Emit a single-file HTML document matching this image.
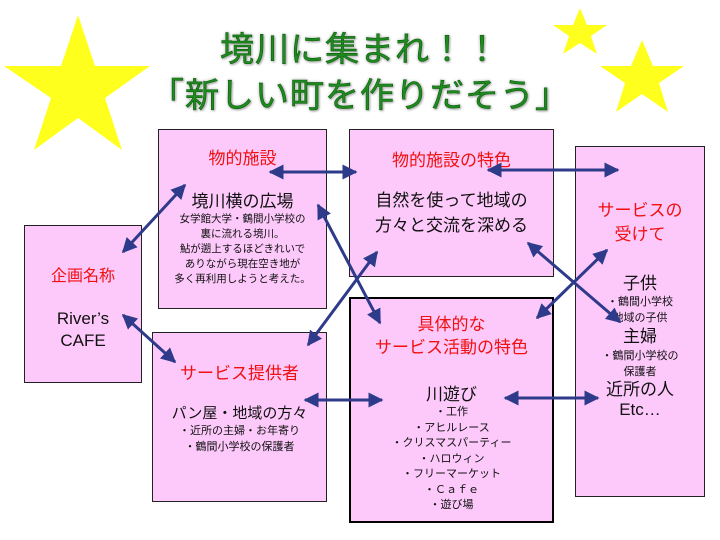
<!DOCTYPE html>
<html><head><meta charset="utf-8"><style>
body{margin:0;width:720px;height:540px;background:#fff;position:relative;overflow:hidden;font-family:"Liberation Sans","Noto Sans CJK JP",sans-serif}
.b{position:absolute;background:#fdc9fb;border:1px solid #222;box-sizing:border-box;text-align:center;color:#111}
.r{color:#f01010}
.t{position:absolute;left:0;width:720px;text-align:center;color:#1f8a1f;font-size:34px;-webkit-text-stroke:0.6px #0c5c0c;text-shadow:0 0 2px #fff,0 0 3px #999,1px 1px 2px #888;letter-spacing:1px}
svg{position:absolute;left:0;top:0}
</style></head><body>
<svg width="720" height="540">
<polygon fill="#ffff1e" points="78,15 95,66 150,66 105,98 122,150 78,118 34,150 51,98 4,66 61,66"/>
<polygon fill="#ffff1e" points="580,8 587,25 607,25 591,36 597,54 580,43 563,54 569,36 553,25 573,25"/>
<polygon fill="#ffff1e" points="642,40 653,66 684,66 659,83 668,112 642,94 616,112 625,83 600,66 631,66"/>
</svg>
<div class="t" style="top:22px">境川に集まれ！！</div>
<div class="t" style="top:68px">「新しい町を作りだそう」</div>

<div class="b" style="left:24px;top:225px;width:118px;height:158px"><div class="r" style="margin-top:36px;font-size:16px">企画名称</div><div style="margin-top:22px;font-size:17px;line-height:22px">River’s<br>CAFE</div></div>

<div class="b" style="left:158px;top:129px;width:169px;height:180px"><div class="r" style="margin-top:14px;font-size:17px">物的施設</div><div style="margin-top:18px;font-size:17px">境川横の広場</div><div style="font-size:10.5px;line-height:15px">女学館大学・鶴間小学校の<br>裏に流れる境川。<br>鮎が遡上するほどきれいで<br>ありながら現在空き地が<br>多く再利用しようと考えた。</div></div>

<div class="b" style="left:349px;top:129px;width:205px;height:148px"><div class="r" style="margin-top:16px;font-size:17px">物的施設の特色</div><div style="margin-top:17px;font-size:17px;line-height:25px">自然を使って地域の<br>方々と交流を深める</div></div>

<div class="b" style="left:575px;top:146px;width:130px;height:351px"><div class="r" style="margin-top:52px;font-size:17px;line-height:24px">サービスの<br>受けて</div><div style="margin-top:22px;font-size:17px">子供</div><div style="font-size:11px;line-height:16px">・鶴間小学校<br>地域の子供</div><div style="font-size:17px;line-height:22px">主婦</div><div style="font-size:11px;line-height:16px">・鶴間小学校の<br>保護者</div><div style="font-size:17px;line-height:20px">近所の人<br>Etc…</div></div>

<div class="b" style="left:152px;top:332px;width:175px;height:170px"><div class="r" style="margin-top:26px;font-size:17px">サービス提供者</div><div style="margin-top:18px;font-size:15px">パン屋・地域の方々</div><div style="font-size:11px;line-height:16px">・近所の主婦・お年寄り<br>・鶴間小学校の保護者</div></div>

<div class="b" style="left:349px;top:297px;width:205px;height:226px;border:2px solid #000"><div class="r" style="margin-top:14px;font-size:17px;line-height:23px">具体的な<br>サービス活動の特色</div><div style="margin-top:21px;font-size:17px">川遊び</div><div style="font-size:11px;line-height:15.5px">・工作<br>・アヒルレース<br>・クリスマスパーティー<br>・ハロウィン<br>・フリーマーケット<br>・Ｃａｆｅ<br>・遊び場</div></div>

<svg width="720" height="540">
<defs><marker id="a" viewBox="0 0 10 10" refX="9" refY="5" markerWidth="5" markerHeight="5" orient="auto-start-reverse"><path d="M0,0L10,5L0,10z" fill="#2e3a8a"/></marker></defs>
<g stroke="#2e3a8a" stroke-width="3" marker-start="url(#a)" marker-end="url(#a)">
<line x1="123" y1="252" x2="185" y2="185"/>
<line x1="123" y1="315" x2="175" y2="362"/>
<line x1="270" y1="172" x2="356" y2="172"/>
<line x1="488" y1="170" x2="618" y2="170"/>
<line x1="318" y1="205" x2="380" y2="323"/>
<line x1="308" y1="345" x2="377" y2="252"/>
<line x1="528" y1="243" x2="620" y2="322"/>
<line x1="537" y1="318" x2="607" y2="250"/>
<line x1="305" y1="400" x2="382" y2="400"/>
<line x1="505" y1="398" x2="598" y2="398"/>
</g></svg>
</body></html>
